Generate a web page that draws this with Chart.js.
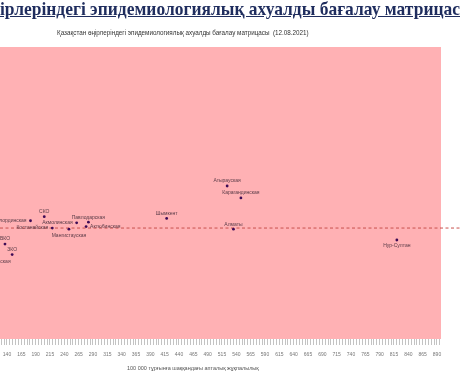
<!DOCTYPE html>
<html>
<head>
<meta charset="utf-8">
<script src="https://cdn.jsdelivr.net/npm/chart.js@4"></script>
<style>
  body { margin: 0; background: #fff; }
  #wrap { position: relative; width: 460px; height: 375px; overflow: hidden; }
  #heading {
    position: absolute; left: 0; top: -2px; white-space: nowrap;
    font-family: "Liberation Serif", "DejaVu Serif", serif; font-weight: bold;
    font-size: 19px; color: #1f2d5e; text-decoration: underline;
    transform: scaleX(0.92); transform-origin: left top;
  }
  #sub {
    position: absolute; left: 57px; top: 29px; white-space: nowrap;
    font-family: "Liberation Sans", Arial, sans-serif; font-size: 6.3px; color: #333;
  }
  #xtitle {
    position: absolute; left: 127px; top: 365px; white-space: nowrap;
    font-family: "Liberation Sans", Arial, sans-serif; font-size: 5.5px; color: #555;
  }
  canvas { position: absolute; left: 0; top: 0; }
</style>
</head>
<body>
<div id="wrap">
  <canvas id="matrixChart" width="460" height="375"></canvas>
  <div id="heading">ірлеріндегі эпидемиологиялық ахуалды бағалау матрицасы</div>
  <div id="sub">Қазақстан өңірлеріндегі эпидемиологиялық ахуалды бағалау матрицасы&nbsp; (12.08.2021)</div>
  <div id="xtitle">100 000 тұрғынға шаққандағы апталық жұқпалылық</div>
</div>
<script>
  'use strict'

  // Region names
  const regions = ['Туркестанская', 'ВКО', 'ЗКО', 'Кызылординская', 'СКО', 'Костанайская',
    'Мангистауская', 'Акмолинская', 'Павлодарская', 'Актюбинская', 'Шымкент',
    'Атырауская', 'Карагандинская', 'Алматы', 'Нур-Султан'];
  // Weekly incidence per 100 000 (x) and second indicator (y)
  const incidence = [117, 136.5, 149, 181, 205, 219, 248, 261.5, 282, 278, 418.5, 524, 548, 535, 820];
  const indicator = [28.4, 32.5, 28.9, 40.5, 41.9, 38.0, 37.6, 39.8, 40.0, 38.5, 41.3, 52.4, 48.3, 37.6, 33.9];
  // Threshold (dashed line)
  const threshold = 38.0;
  // Labeled x ticks
  const xTickLabels = [140, 165, 190, 215, 240, 265, 290, 315, 340, 365, 390, 415, 440, 465,
    490, 515, 540, 565, 590, 615, 640, 665, 690, 715, 740, 765, 790, 815, 840, 865, 890];

  // Where to put each label relative to its point
  const labelPlace = {
    'Туркестанская': 'bottom', 'ВКО': 'top', 'ЗКО': 'top', 'Кызылординская': 'left',
    'СКО': 'top', 'Костанайская': 'left', 'Мангистауская': 'bottom', 'Акмолинская': 'left',
    'Павлодарская': 'top', 'Актюбинская': 'right', 'Шымкент': 'top', 'Атырауская': 'top',
    'Карагандинская': 'top', 'Алматы': 'top', 'Нур-Султан': 'bottom'
  };

  const points = regions.map((name, i) => ({ x: incidence[i], y: indicator[i] }));

  // minor tick positions every 5 units
  let minorTicks = [];
  for (let v = 130; v <= 895; v += 5) {
    minorTicks.push({ value: v });
  }

  const areaFill = {
    id: 'areaFill',
    beforeDraw(chart) {
      const { ctx, chartArea: a } = chart;
      ctx.save();
      ctx.fillStyle = '#ffb1b4';
      ctx.fillRect(a.left, a.top, a.right - a.left, a.bottom - a.top);
      ctx.restore();
    }
  };

  const thresholdLine = {
    id: 'thresholdLine',
    beforeDatasetsDraw(chart) {
      const { ctx } = chart;
      const y = chart.scales.y.getPixelForValue(threshold);
      ctx.save();
      ctx.strokeStyle = '#c8524e';
      ctx.lineWidth = 1;
      ctx.setLineDash([3, 2.5]);
      ctx.beginPath();
      ctx.moveTo(0, y);
      ctx.lineTo(chart.width, y);
      ctx.stroke();
      ctx.restore();
    }
  };

  const pointLabels = {
    id: 'pointLabels',
    afterDatasetsDraw(chart) {
      const { ctx } = chart;
      const meta = chart.getDatasetMeta(0);
      ctx.save();
      ctx.font = '5px "Liberation Sans", Arial, sans-serif';
      ctx.fillStyle = '#5a3c48';
      ctx.textBaseline = 'middle';
      meta.data.forEach((el, i) => {
        const place = labelPlace[regions[i]];
        let x = el.x, y = el.y;
        if (place === 'top') {
          ctx.textAlign = 'center'; y -= 5;
        } else if (place === 'bottom') {
          ctx.textAlign = 'center'; y += 6;
        } else if (place === 'left') {
          ctx.textAlign = 'right'; x -= 4;
        } else {
          ctx.textAlign = 'left'; x += 4;
        }
        ctx.fillText(regions[i], x, y);
      });
      ctx.restore();
    }
  };

  const ctx = document.getElementById('matrixChart');

  new Chart(ctx, {
    type: 'scatter',
    data: {
      datasets: [{
        data: points,
        pointRadius: 1.4,
        pointHoverRadius: 1.4,
        pointBackgroundColor: '#3d0a55',
        pointBorderWidth: 0
      }]
    },
    options: {
      responsive: false,
      animation: false,
      layout: { autoPadding: false, padding: { top: 47, right: 19, left: 0, bottom: 0 } },
      plugins: {
        legend: { display: false },
        tooltip: { enabled: false }
      },
      scales: {
        x: {
          type: 'linear',
          min: 127.8,
          max: 897,
          afterBuildTicks: (scale) => { scale.ticks = minorTicks.slice(); },
          afterFit: (scale) => {
            scale.height = 36;
            scale.paddingLeft = 0;
            scale.paddingRight = 0;
          },
          border: { display: false },
          grid: {
            drawOnChartArea: false,
            tickLength: 6,
            color: '#9a9a9a',
            lineWidth: 0.6
          },
          ticks: {
            autoSkip: false,
            maxRotation: 0,
            padding: 7,
            color: '#777',
            font: { size: 5, family: '"Liberation Sans", Arial, sans-serif' },
            callback: (v) => xTickLabels.includes(v) ? String(v) : ''
          }
        },
        y: {
          display: false,
          min: 0,
          max: 100
        }
      }
    },
    plugins: [areaFill, thresholdLine, pointLabels]
  });
</script>
</body>
</html>
